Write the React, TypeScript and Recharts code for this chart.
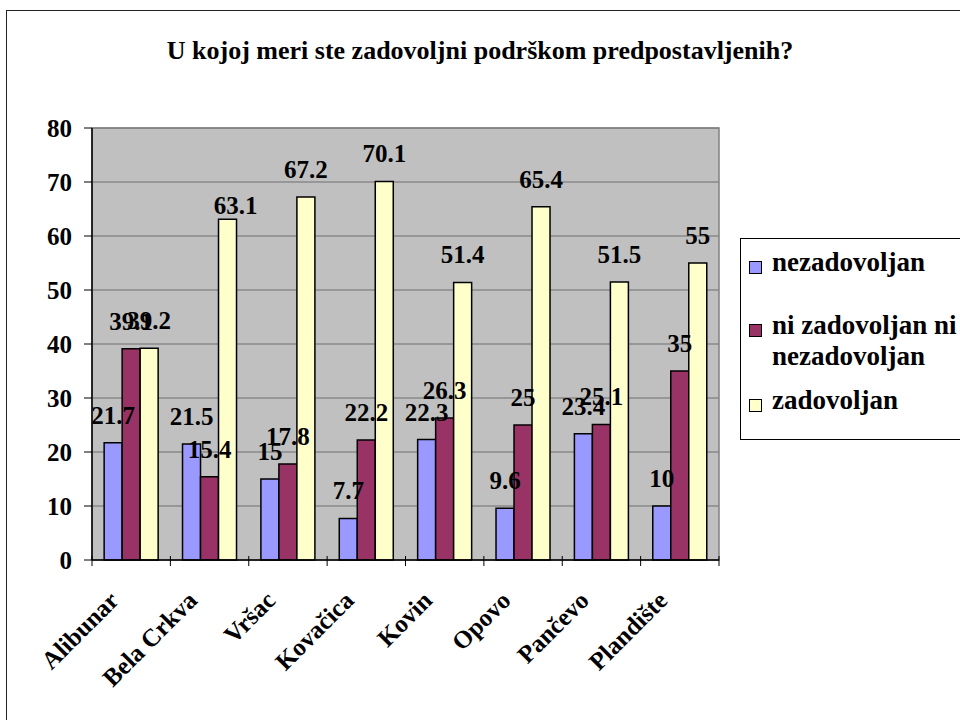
import React from 'react';
import { BarChart, Bar, XAxis, YAxis, CartesianGrid, LabelList, ReferenceArea } from 'recharts';

const categories = ['Alibunar', 'Bela Crkva', 'Vršac', 'Kovačica', 'Kovin', 'Opovo', 'Pančevo', 'Plandište'];
const nezadovoljan = [21.7, 21.5, 15, 7.7, 22.3, 9.6, 23.4, 10];
const niNi = [39.1, 15.4, 17.8, 22.2, 26.3, 25, 25.1, 35];
const zadovoljan = [39.2, 63.1, 67.2, 70.1, 51.4, 65.4, 51.5, 55];
const yTicks = [0, 10, 20, 30, 40, 50, 60, 70, 80];
const seriesNames = ['nezadovoljan', 'ni zadovoljan ni nezadovoljan', 'zadovoljan'];
const legendLines = [['nezadovoljan'], ['ni zadovoljan ni', 'nezadovoljan'], ['zadovoljan']];
const titleText = 'U kojoj meri ste zadovoljni podrškom predpostavljenih?';

const data = categories.map((c, i) => ({ name: c, a: nezadovoljan[i], b: niNi[i], c: zadovoljan[i] }));

const FONT = '"Liberation Serif", "Times New Roman", serif';
const COLORS = ['#9999FF', '#993366', '#FFFFCC'];
const FS = 25;
const LABEL_GAP = 19;
// style-only nudge for one hand-placed label in the original (series c, Bela Crkva)
const labelNudge: Record<string, { dx: number; dy: number }> = { 'c-1': { dx: 8, dy: 14 } };

const makeLabel = (key: string) => (props: any) => {
  const { x, y, width, value, index } = props;
  const n = labelNudge[`${key}-${index}`] || { dx: 0, dy: 0 };
  return (
    <text
      x={x + width / 2 + n.dx}
      y={y - LABEL_GAP + n.dy}
      textAnchor="middle"
      fontFamily={FONT}
      fontWeight="bold"
      fontSize={FS}
      fill="#000"
    >
      {value}
    </text>
  );
};

const XTick = (props: any) => {
  const { x, y, payload, index, visibleTicksCount } = props;
  const off = payload.offset || 0;
  const axisY = y - 10;
  return (
    <g>
      <line x1={x - off} x2={x - off} y1={axisY - 2} y2={axisY + 8} stroke="#000" strokeWidth={1} />
      {index === visibleTicksCount - 1 && (
        <line x1={x + off} x2={x + off} y1={axisY - 2} y2={axisY + 8} stroke="#000" strokeWidth={1} />
      )}
      <text
        x={x - 11}
        y={axisY + 44}
        textAnchor="end"
        transform={`rotate(-45, ${x - 11}, ${axisY + 44})`}
        fontFamily={FONT}
        fontWeight="bold"
        fontSize={FS}
        fill="#000"
      >
        {payload.value}
      </text>
    </g>
  );
};

const LegendBox = () => (
  <div
    style={{
      position: 'absolute',
      left: 740,
      top: 238,
      width: 260,
      height: 202,
      border: '1px solid #000',
      background: '#fff',
      fontFamily: FONT,
      fontWeight: 'bold',
      fontSize: 27,
      boxSizing: 'border-box',
      color: '#000',
    }}
  >
    {[14, 77, 152].map((top, i) => (
      <div key={seriesNames[i]} style={{ position: 'absolute', left: 8, top, display: 'flex', alignItems: 'flex-start' }}>
        <div
          style={{
            width: 11,
            height: 11,
            background: COLORS[i],
            border: '1.5px solid #000',
            marginTop: 8,
            marginRight: 10,
            flexShrink: 0,
          }}
        />
        <div style={{ lineHeight: '31px', marginTop: -6 }}>
          {legendLines[i].map((l) => (
            <div key={l}>{l}</div>
          ))}
        </div>
      </div>
    ))}
  </div>
);

export default function App() {
  return (
    <div style={{ position: 'absolute', left: 0, top: 0, width: 960, height: 720, overflow: 'hidden', background: '#fff' }}>
      <div
        style={{
          position: 'absolute',
          left: 6,
          top: 10,
          width: 1000,
          height: 800,
          border: '1.5px solid #222',
        }}
      />
      <div
        style={{
          position: 'absolute',
          left: 0,
          top: 36,
          width: 960,
          textAlign: 'center',
          fontFamily: FONT,
          fontWeight: 'bold',
          fontSize: 26,
          color: '#000',
        }}
      >
        {titleText}
      </div>
      <div style={{ position: 'absolute', left: 0, top: 0 }}>
        <BarChart
          width={960}
          height={720}
          data={data}
          margin={{ top: 128, right: 241, bottom: 0, left: 0 }}
          barCategoryGap="15.5%"
          barGap={0}
        >
          <CartesianGrid vertical={false} horizontal={true} stroke="#6e6e6e" fill="#c0c0c0" />
          <ReferenceArea y1={0} y2={80} fill="none" stroke="#808080" strokeWidth={1.5} ifOverflow="visible" />
          <XAxis
            dataKey="name"
            interval={0}
            axisLine={{ stroke: '#000', strokeWidth: 1.5 }}
            tickLine={false}
            tick={<XTick />}
            height={160}
          />
          <YAxis
            width={92}
            domain={[0, 80]}
            ticks={yTicks}
            interval={0}
            axisLine={{ stroke: '#000', strokeWidth: 1.5 }}
            tickLine={{ stroke: '#000' }}
            tickSize={8}
            tickMargin={12}
            tick={{ fontFamily: FONT, fontWeight: 'bold', fontSize: FS, fill: '#000' }}
          />
          <Bar dataKey="a" name={seriesNames[0]} fill={COLORS[0]} stroke="#000" strokeWidth={1.5} isAnimationActive={false}>
            <LabelList dataKey="a" content={makeLabel('a')} />
          </Bar>
          <Bar dataKey="b" name={seriesNames[1]} fill={COLORS[1]} stroke="#000" strokeWidth={1.5} isAnimationActive={false}>
            <LabelList dataKey="b" content={makeLabel('b')} />
          </Bar>
          <Bar dataKey="c" name={seriesNames[2]} fill={COLORS[2]} stroke="#000" strokeWidth={1.5} isAnimationActive={false}>
            <LabelList dataKey="c" content={makeLabel('c')} />
          </Bar>
        </BarChart>
      </div>
      <LegendBox />
    </div>
  );
}
